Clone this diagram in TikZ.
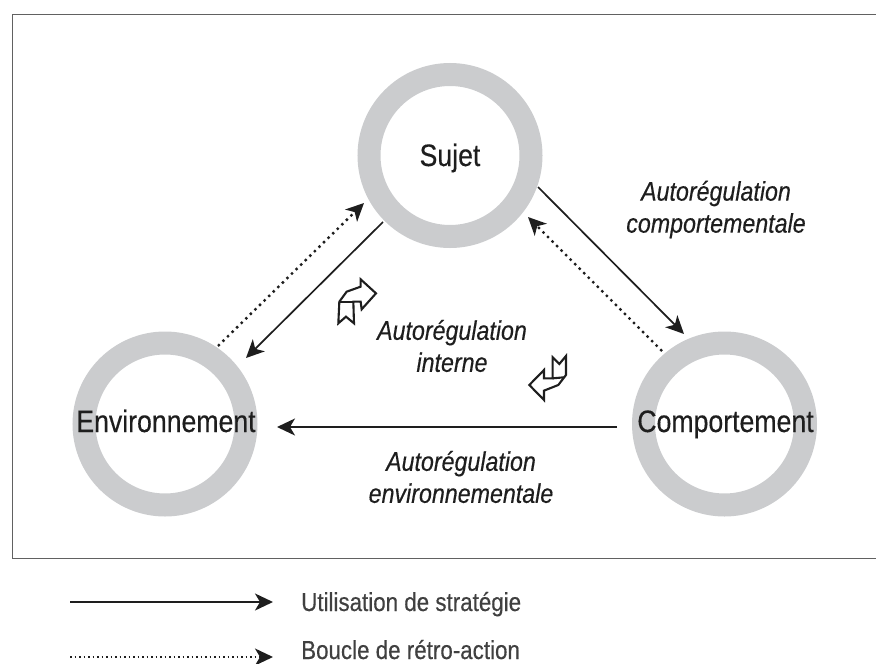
\documentclass[tikz,border=0pt]{standalone}
\usepackage{fontspec}
\setmainfont{Liberation Sans}
\newfontfamily\condfont[FakeStretch=0.86,FakeBold=0.35]{Liberation Sans}
\usetikzlibrary{arrows.meta}
\definecolor{ringgray}{HTML}{CBCCCE}
\definecolor{ink}{HTML}{1E1E1E}
\tikzset{
  ring/.style={circle,draw=ringgray,line width=23pt,minimum size=162pt,inner sep=0pt},
  nodetext/.style={font=\condfont\fontsize{31}{36}\selectfont,text=ink,inner sep=0pt,anchor=base},
  lab/.style={font=\condfont\itshape\fontsize{27}{32}\selectfont,text=ink,align=center,inner sep=0pt},
  legendtext/.style={font=\condfont\fontsize{26}{30}\selectfont,text=ink!85,anchor=base west,inner sep=0pt},
  tip/.style={-{Stealth[length=18pt,width=17pt,inset=5pt]}},
  solidarrow/.style={tip,draw=ink,line width=1.7pt},
  dotarrow/.style={tip,draw=ink,line width=2.4pt,dash pattern=on 2.4pt off 4pt},
  legenddot/.style={tip,draw=ink,line width=1.8pt,dash pattern=on 1.8pt off 2.7pt},
  loopicon/.style={draw=ink,line width=2.1pt,line join=miter,fill=white}
}
\begin{document}
\begin{tikzpicture}[x=1pt,y=-1pt]
\useasboundingbox (0,0) rectangle (876,664);
\draw[draw=ink!70,line width=1pt] (876,14) -- (12,14) -- (12,558) -- (876,558);
% rings
\node[ring] (sujet) at (450,155.5) {};
\node[ring] (env) at (165,424) {};
\node[ring] (comp) at (724.5,424) {};
\node[nodetext] (sujetT) at (450,166) {Sujet};
\node[nodetext] (envT) at (166,432) {Environnement};
\node[nodetext] (compT) at (725.5,432) {Comportement};
% connector ends
\coordinate (a1) at (383,222);
\coordinate (a2) at (246,358);
\coordinate (b1) at (218,346);
\coordinate (b2) at (364,203);
\coordinate (c1) at (538,187);
\coordinate (c2) at (684,334);
\coordinate (d1) at (662,351);
\coordinate (d2) at (528,217);
\coordinate (e1) at (617,427);
\coordinate (e2) at (277,427);
\draw[solidarrow] (a1) -- (a2);
\draw[dotarrow] (b1) -- (b2);
\draw[solidarrow] (c1) -- (c2);
\draw[dotarrow] (d1) -- (d2);
\draw[solidarrow] (e1) -- (e2);
% labels
\node[lab] (l1) at (716,209.5) {Autorégulation\\comportementale};
\node[lab] (l2) at (452,346) {Autorégulation\\interne};
\node[lab] (l3) at (461,477) {Autorégulation\\environnementale};
% loop icons
\begin{scope}[shift={(320,260)},x=0.3333pt,y=-0.3333pt]
  \draw[loopicon] (55,190) -- (58,125) -- (80,95) -- (122,80) -- (122,58) -- (168,100) -- (125,148) -- (122,125) -- (100,125) -- (102,190) -- (78,170) -- cycle;
  \draw[loopicon] (60,125) -- (100,125);
  \draw[loopicon] (738,288) -- (738,345) -- (715,375) -- (672,392) -- (672,420) -- (628,375) -- (672,330) -- (672,355) -- (698,355) -- (698,292) -- (718,312) -- cycle;
  \draw[loopicon] (698,355) -- (732,352);
\end{scope}
% legend
\coordinate (f1) at (70,602);
\coordinate (f2) at (273,602);
\coordinate (g1) at (70,657);
\coordinate (g2) at (273,657);
\draw[solidarrow] (f1) -- (f2);
\draw[legenddot] (g1) -- (g2);
\node[legendtext] (t1) at (301,611) {Utilisation de stratégie};
\node[legendtext] (t2) at (301,659) {Boucle de rétro-action};
\end{tikzpicture}
\end{document}
